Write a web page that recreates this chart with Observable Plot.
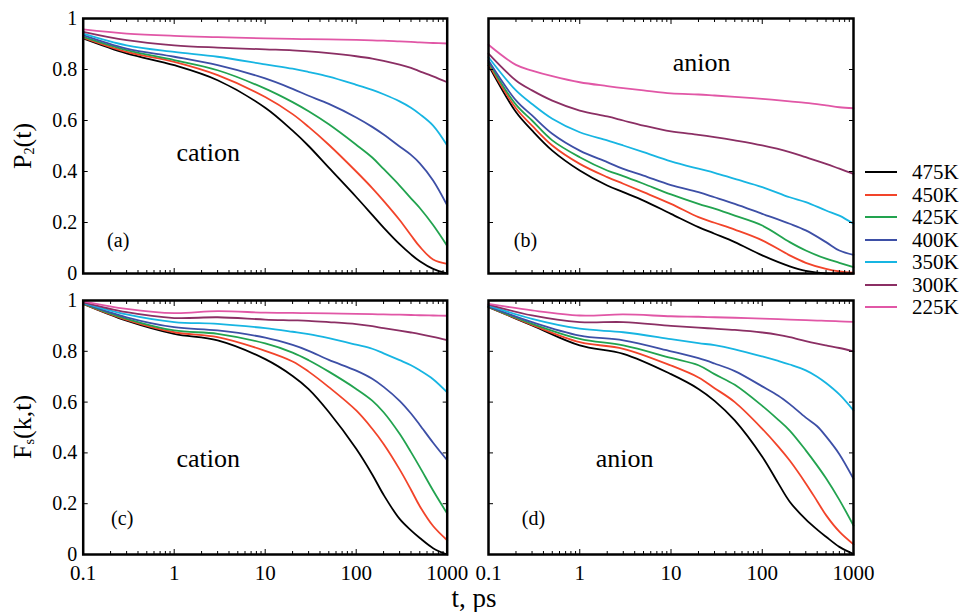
<!DOCTYPE html>
<html><head><meta charset="utf-8">
<script src="https://cdn.jsdelivr.net/npm/d3@7"></script>
<script src="https://cdn.jsdelivr.net/npm/@observablehq/plot@0.6"></script>
<style>
body{margin:0;background:#fff;}
#wrap{position:relative;width:961px;height:612px;font-family:"Liberation Serif","Times New Roman",serif;color:#000;overflow:hidden;}
#wrap svg{position:absolute;left:0;top:0;}
.lab{position:absolute;white-space:nowrap;line-height:1;}
.lab sub{font-size:0.55em;vertical-align:-0.25em;}
</style></head><body><div id="wrap"></div>
<script>
// ---------------- data ----------------
const temps  = ["475K", "450K", "425K", "400K", "350K", "300K", "225K"];
const colors = ["#000000", "#f2442a", "#22a34f", "#3d4fa6", "#17b5e2", "#8b2f64", "#e157a6"];

const xTicks = [0.1, 1, 10, 100, 1000];
const xTickLabels = ["0.1", "1", "10", "100", "1000"];
const yTicks = [0, 0.2, 0.4, 0.6, 0.8, 1];
const yTickLabels = ["0", "0.2", "0.4", "0.6", "0.8", "1"];

// (a) P2(t), cation
const tA = [0.1, 0.3, 1, 3, 10, 20, 30, 50, 100, 150, 200, 300, 400, 500, 700, 1000];
const a475 = [0.922, 0.863, 0.817, 0.758, 0.650, 0.560, 0.500, 0.415, 0.300, 0.230, 0.180, 0.115, 0.075, 0.048, 0.018, 0.0];
const a450 = [0.925, 0.869, 0.830, 0.778, 0.692, 0.625, 0.575, 0.505, 0.400, 0.335, 0.285, 0.210, 0.150, 0.105, 0.055, 0.038];
const a425 = [0.928, 0.876, 0.837, 0.797, 0.725, 0.672, 0.636, 0.585, 0.505, 0.455, 0.410, 0.345, 0.295, 0.257, 0.190, 0.108];
const a400 = [0.935, 0.882, 0.850, 0.817, 0.765, 0.724, 0.697, 0.665, 0.612, 0.575, 0.545, 0.498, 0.465, 0.432, 0.365, 0.267];
const a350 = [0.941, 0.895, 0.869, 0.850, 0.820, 0.803, 0.790, 0.772, 0.740, 0.720, 0.703, 0.675, 0.650, 0.625, 0.580, 0.502];
const a300 = [0.948, 0.915, 0.895, 0.886, 0.879, 0.875, 0.871, 0.864, 0.852, 0.843, 0.834, 0.819, 0.806, 0.793, 0.773, 0.750];
const a225 = [0.957, 0.941, 0.932, 0.927, 0.922, 0.920, 0.919, 0.918, 0.916, 0.914, 0.913, 0.910, 0.908, 0.906, 0.904, 0.902];

// (b) P2(t), anion
const tB = [0.1, 0.2, 0.3, 0.5, 1, 2, 3, 5, 10, 20, 30, 50, 100, 200, 300, 500, 700, 1000];
const b475 = [0.816, 0.633, 0.561, 0.482, 0.404, 0.345, 0.319, 0.286, 0.234, 0.182, 0.156, 0.123, 0.071, 0.028, 0.010, 0.0, 0.0, 0.0];
const b450 = [0.822, 0.648, 0.580, 0.502, 0.430, 0.378, 0.352, 0.319, 0.273, 0.221, 0.199, 0.172, 0.130, 0.071, 0.042, 0.018, 0.008, 0.003];
const b425 = [0.829, 0.662, 0.600, 0.522, 0.456, 0.404, 0.382, 0.352, 0.310, 0.273, 0.254, 0.227, 0.188, 0.123, 0.090, 0.058, 0.042, 0.025];
const b400 = [0.835, 0.679, 0.620, 0.548, 0.482, 0.437, 0.410, 0.384, 0.347, 0.319, 0.299, 0.273, 0.234, 0.195, 0.169, 0.123, 0.090, 0.073];
const b350 = [0.848, 0.718, 0.665, 0.607, 0.554, 0.522, 0.502, 0.476, 0.440, 0.411, 0.395, 0.371, 0.339, 0.299, 0.280, 0.247, 0.227, 0.195];
const b300 = [0.862, 0.757, 0.718, 0.678, 0.639, 0.616, 0.600, 0.580, 0.557, 0.544, 0.535, 0.522, 0.502, 0.476, 0.456, 0.430, 0.411, 0.391];
const b225 = [0.897, 0.818, 0.796, 0.774, 0.750, 0.735, 0.727, 0.718, 0.706, 0.702, 0.698, 0.693, 0.685, 0.675, 0.669, 0.659, 0.652, 0.648];

// (c) Fs(k,t), cation
const tC = [0.1, 0.3, 1, 3, 10, 20, 30, 50, 100, 150, 200, 300, 400, 500, 700, 1000];
const c475 = [0.987, 0.921, 0.869, 0.843, 0.769, 0.703, 0.651, 0.561, 0.416, 0.315, 0.235, 0.140, 0.095, 0.065, 0.025, 0.0];
const c450 = [0.987, 0.924, 0.875, 0.856, 0.802, 0.760, 0.720, 0.659, 0.567, 0.495, 0.435, 0.335, 0.255, 0.190, 0.112, 0.056];
const c425 = [0.988, 0.928, 0.882, 0.869, 0.831, 0.795, 0.765, 0.720, 0.652, 0.606, 0.560, 0.475, 0.403, 0.344, 0.252, 0.161];
const c400 = [0.990, 0.934, 0.895, 0.882, 0.854, 0.825, 0.802, 0.766, 0.724, 0.692, 0.660, 0.605, 0.555, 0.510, 0.440, 0.371];
const c350 = [0.991, 0.945, 0.915, 0.908, 0.891, 0.877, 0.868, 0.852, 0.826, 0.810, 0.792, 0.765, 0.745, 0.725, 0.690, 0.638];
const c300 = [0.993, 0.954, 0.931, 0.934, 0.925, 0.922, 0.920, 0.915, 0.907, 0.899, 0.891, 0.881, 0.874, 0.868, 0.857, 0.844];
const c225 = [0.997, 0.967, 0.950, 0.958, 0.952, 0.951, 0.950, 0.949, 0.947, 0.946, 0.945, 0.944, 0.943, 0.942, 0.941, 0.940];

// (d) Fs(k,t), anion
const tD = [0.1, 0.3, 1, 3, 10, 20, 30, 50, 100, 150, 200, 300, 400, 500, 700, 1000];
const d475 = [0.974, 0.902, 0.823, 0.790, 0.710, 0.652, 0.605, 0.528, 0.385, 0.280, 0.208, 0.138, 0.098, 0.070, 0.030, 0.002];
const d450 = [0.975, 0.904, 0.836, 0.810, 0.744, 0.697, 0.655, 0.600, 0.495, 0.425, 0.370, 0.280, 0.210, 0.155, 0.090, 0.040];
const d425 = [0.976, 0.908, 0.849, 0.823, 0.774, 0.745, 0.710, 0.668, 0.585, 0.530, 0.488, 0.410, 0.350, 0.300, 0.215, 0.114];
const d400 = [0.977, 0.915, 0.862, 0.843, 0.800, 0.773, 0.752, 0.722, 0.662, 0.625, 0.592, 0.539, 0.505, 0.465, 0.395, 0.298];
const d350 = [0.980, 0.928, 0.889, 0.875, 0.848, 0.832, 0.824, 0.808, 0.780, 0.762, 0.748, 0.725, 0.700, 0.675, 0.630, 0.567];
const d300 = [0.984, 0.941, 0.915, 0.915, 0.900, 0.893, 0.889, 0.884, 0.874, 0.865, 0.856, 0.840, 0.830, 0.823, 0.813, 0.800];
const d225 = [0.987, 0.961, 0.941, 0.945, 0.938, 0.936, 0.934, 0.932, 0.929, 0.927, 0.925, 0.923, 0.921, 0.920, 0.918, 0.916];

const panelNames = ["cation", "anion", "cation", "anion"];
const panelTags = ["(a)", "(b)", "(c)", "(d)"];
const yTitles = ["P<sub>2</sub>(t)", "F<sub>s</sub>(k,t)"];
const xTitle = "t, ps";

// ---------------- build ----------------
const panels = [
  {t: tA, series: [a475, a450, a425, a400, a350, a300, a225], box: [82.7, 446.7, 18, 273], left: true, bottom: false, name: [125, 134], tag: [35, 222]},
  {t: tB, series: [b475, b450, b425, b400, b350, b300, b225], box: [488, 853, 18, 273], left: false, bottom: false, name: [213, 44], tag: [37, 222]},
  {t: tC, series: [c475, c450, c425, c400, c350, c300, c225], box: [82.7, 446.7, 300, 554], left: true, bottom: true, name: [125, 158], tag: [39, 218]},
  {t: tD, series: [d475, d450, d425, d400, d350, d300, d225], box: [488, 853, 300, 554], left: false, bottom: true, name: [136, 158], tag: [45, 218]}
];

const W = 961, H = 612;
const wrap = document.getElementById("wrap");
const minorX = [];
for (let e = -1; e < 3; e++) for (let k = 2; k <= 9; k++) minorX.push(k * Math.pow(10, e));
const blank = () => "";

panels.forEach((p, pi) => {
  const rows = [];
  p.series.forEach((vals, si) => vals.forEach((v, j) => rows.push({t: p.t[j], v, T: temps[si]})));
  const [l, r, tp, bt] = p.box;
  const marks = [
    Plot.line(rows, {x: "t", y: "v", z: "T", stroke: "T", strokeWidth: 1.8, curve: "catmull-rom"}),
    Plot.axisX({anchor: "bottom", ticks: xTicks, tickSize: -5, tickFormat: blank, label: null}),
    Plot.axisX({anchor: "top", ticks: xTicks, tickSize: -5, tickFormat: blank, label: null}),
    Plot.axisX({anchor: "bottom", ticks: minorX, tickSize: -3, tickFormat: blank, label: null}),
    Plot.axisX({anchor: "top", ticks: minorX, tickSize: -3, tickFormat: blank, label: null}),
    Plot.axisY({anchor: "left", ticks: yTicks, tickSize: -5, tickFormat: blank, label: null}),
    Plot.axisY({anchor: "right", ticks: yTicks, tickSize: -5, tickFormat: blank, label: null}),
    Plot.frame({stroke: "black", strokeWidth: 2.5}),
    Plot.text([panelNames[pi]], {text: d => d, frameAnchor: "top-left", dx: p.name[0], dy: p.name[1], fontSize: 26, textAnchor: "middle", lineAnchor: "middle"}),
    Plot.text([panelTags[pi]], {text: d => d, frameAnchor: "top-left", dx: p.tag[0], dy: p.tag[1], fontSize: 20, textAnchor: "middle", lineAnchor: "middle"})
  ];
  if (p.left) marks.push(Plot.axisY({anchor: "left", ticks: yTicks, tickSize: 0, tickPadding: 6, tickFormat: d => yTickLabels[yTicks.indexOf(d)], fontSize: 20, label: null}));
  if (p.bottom) marks.push(Plot.axisX({anchor: "bottom", ticks: xTicks, tickSize: 0, tickPadding: 11, tickFormat: d => xTickLabels[xTicks.indexOf(d)], fontSize: 21, label: null}));
  const svg = Plot.plot({
    width: W, height: H,
    marginLeft: l, marginRight: W - r, marginTop: tp, marginBottom: H - bt,
    x: {type: "log", domain: [0.1, 1000]},
    y: {domain: [0, 1]},
    color: {domain: temps, range: colors},
    style: {fontFamily: '"Liberation Serif", "Times New Roman", serif', fontSize: "20px", color: "black", background: "transparent", overflow: "visible"},
    marks
  });
  wrap.appendChild(svg);
});

// axis titles
function addLabel(html, cx, cy, size, rot) {
  const d = document.createElement("div");
  d.className = "lab";
  d.innerHTML = html;
  d.style.fontSize = size + "px";
  d.style.left = cx + "px";
  d.style.top = cy + "px";
  d.style.transform = "translate(-50%,-50%)" + (rot ? " rotate(-90deg)" : "");
  wrap.appendChild(d);
}
addLabel(yTitles[0], 23, 146, 26, true);
addLabel(yTitles[1], 23, 427, 26, true);
addLabel(xTitle, 474, 598, 27, false);

// legend
temps.forEach((T, i) => {
  const cy = 172 + i * 22.5;
  const ln = document.createElement("div");
  ln.style.cssText = `position:absolute;left:865px;top:${cy - 1}px;width:32px;height:0;border-top:2px solid ${colors[i]};`;
  wrap.appendChild(ln);
  const tx = document.createElement("div");
  tx.className = "lab";
  tx.textContent = T;
  tx.style.cssText += `font-size:21px;left:912px;top:${cy - 10}px;`;
  wrap.appendChild(tx);
});
</script></body></html>
